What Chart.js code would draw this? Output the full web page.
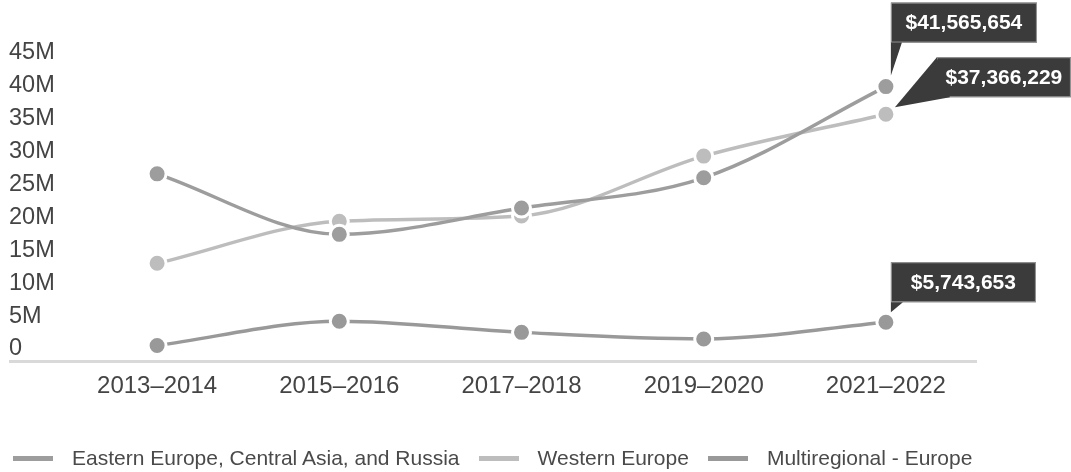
<!DOCTYPE html>
<html>
<head>
<meta charset="utf-8">
<script src="https://cdn.jsdelivr.net/npm/chart.js@4.4.1/dist/chart.umd.min.js"></script>
<style>
  html, body { margin: 0; padding: 0; background: #fff; }
  #wrap { position: relative; width: 1071px; height: 472px; }
  #legend { position: absolute; left: 13px; top: 446px; display: flex; align-items: center;
    font-family: "Liberation Sans", Arial, Helvetica, sans-serif; font-size: 21px; color: #4a4a4a; white-space: nowrap; }
  .item { display: flex; align-items: center; margin-right: 19px; }
  .swatch { width: 40px; height: 5px; margin-right: 19px; }
</style>
</head>
<body>
<div id="wrap">
  <canvas id="chart" width="1071" height="472"></canvas>
  <div id="legend"></div>
</div>
<script>
// --- Datos ---
const periods = ['2013–2014', '2015–2016', '2017–2018', '2019–2020', '2021–2022'];
const easternEurope = [28300000, 19100000, 23100000, 27700000, 41565654];
const westernEurope = [14700000, 21100000, 21900000, 31000000, 37366229];
const multiregional = [2200000, 5900000, 4200000, 3200000, 5743653];
const yTicks = [0, 5e6, 10e6, 15e6, 20e6, 25e6, 30e6, 35e6, 40e6, 45e6];

const FONT = '"Liberation Sans", Arial, Helvetica, sans-serif';

const makeSet = (label, data, color) => ({
    label: label,
    data: data,
    borderColor: color,
    backgroundColor: color,
    borderWidth: 3.5,
    cubicInterpolationMode: 'monotone',
    pointRadius: 9,
    pointBorderWidth: 3,
    pointBorderColor: '#fff',
    pointBackgroundColor: color
});

// Etiquetas con flecha sobre el último punto de cada serie
const callouts = [
    { ds: 0, box: [5, -84, 146, 40], tip: [[5, -44], [5, -11], [16, -44]] },
    { ds: 1, box: [51, -57, 134, 40], tip: [[51, -57], [9, -7], [64, -17]] },
    { ds: 2, box: [5, -60, 145, 40], tip: [[5, -20], [5, -10], [17, -20]] }
];

const calloutPlugin = {
    id: 'callouts',
    afterDatasetsDraw(chart) {
        const ctx = chart.ctx;
        ctx.save();
        callouts.forEach(c => {
            const meta = chart.getDatasetMeta(c.ds);
            const last = meta.data[meta.data.length - 1];
            const value = chart.data.datasets[c.ds].data[meta.data.length - 1];
            const [bx, by, bw, bh] = c.box;
            const x0 = last.x + bx, y0 = last.y + by;
            ctx.fillStyle = '#3b3b3b';
            ctx.strokeStyle = '#9a9a9a';
            ctx.lineWidth = 1;
            ctx.fillRect(x0, y0, bw, bh);
            ctx.strokeRect(x0 + 0.5, y0 + 0.5, bw - 1, bh - 1);
            ctx.beginPath();
            c.tip.forEach(([dx, dy], i) => {
                if (i === 0) ctx.moveTo(last.x + dx, last.y + dy);
                else ctx.lineTo(last.x + dx, last.y + dy);
            });
            ctx.closePath();
            ctx.fill();
            ctx.fillStyle = '#fff';
            ctx.font = 'bold 21px ' + FONT;
            ctx.textAlign = 'center';
            ctx.textBaseline = 'middle';
            ctx.fillText('$' + value.toLocaleString('en-US'), x0 + bw / 2, y0 + bh / 2 + 1);
        });
        ctx.restore();
    }
};

// Línea base que se extiende bajo las etiquetas del eje Y
const baselinePlugin = {
    id: 'baseline',
    beforeDatasetsDraw(chart) {
        const ctx = chart.ctx;
        ctx.save();
        ctx.strokeStyle = '#d9d9d9';
        ctx.lineWidth = 3;
        ctx.beginPath();
        ctx.moveTo(9, chart.chartArea.bottom + 1.5);
        ctx.lineTo(chart.chartArea.right, chart.chartArea.bottom + 1.5);
        ctx.stroke();
        ctx.restore();
    }
};

const chart = new Chart(document.getElementById('chart'), {
    type: 'line',
    data: {
        labels: periods,
        datasets: [
            makeSet('Eastern Europe, Central Asia, and Russia', easternEurope, '#9d9d9d'),
            makeSet('Western Europe', westernEurope, '#bdbdbd'),
            makeSet('Multiregional - Europe', multiregional, '#999999')
        ]
    },
    options: {
        responsive: false,
        animation: false,
        layout: { padding: { left: 9, right: 94, top: 64, bottom: 0 } },
        plugins: { legend: { display: false }, tooltip: { enabled: false } },
        scales: {
            x: {
                offset: true,
                grid: { display: false, drawTicks: false },
                border: { display: false },
                afterFit: s => { s.height = 112; },
                ticks: { color: '#444', padding: 12, font: { family: FONT, size: 24 } }
            },
            y: {
                min: 0,
                max: 45e6,
                afterFit: s => { s.width = 57; },
                afterBuildTicks: s => { s.ticks = yTicks.map(v => ({ value: v })); },
                grid: { display: false, drawTicks: false },
                border: { display: false },
                ticks: {
                    color: '#444',
                    crossAlign: 'far',
                    labelOffset: -11,
                    font: { family: FONT, size: 23.5 },
                    callback: v => v === 0 ? '0' : (v / 1e6) + 'M'
                }
            }
        }
    },
    plugins: [baselinePlugin, calloutPlugin]
});

// Leyenda HTML a partir de las series
document.getElementById('legend').innerHTML = chart.data.datasets.map(d =>
    `<div class="item"><div class="swatch" style="background:${d.borderColor}"></div><span>${d.label}</span></div>`
).join('');
</script>
</body>
</html>
